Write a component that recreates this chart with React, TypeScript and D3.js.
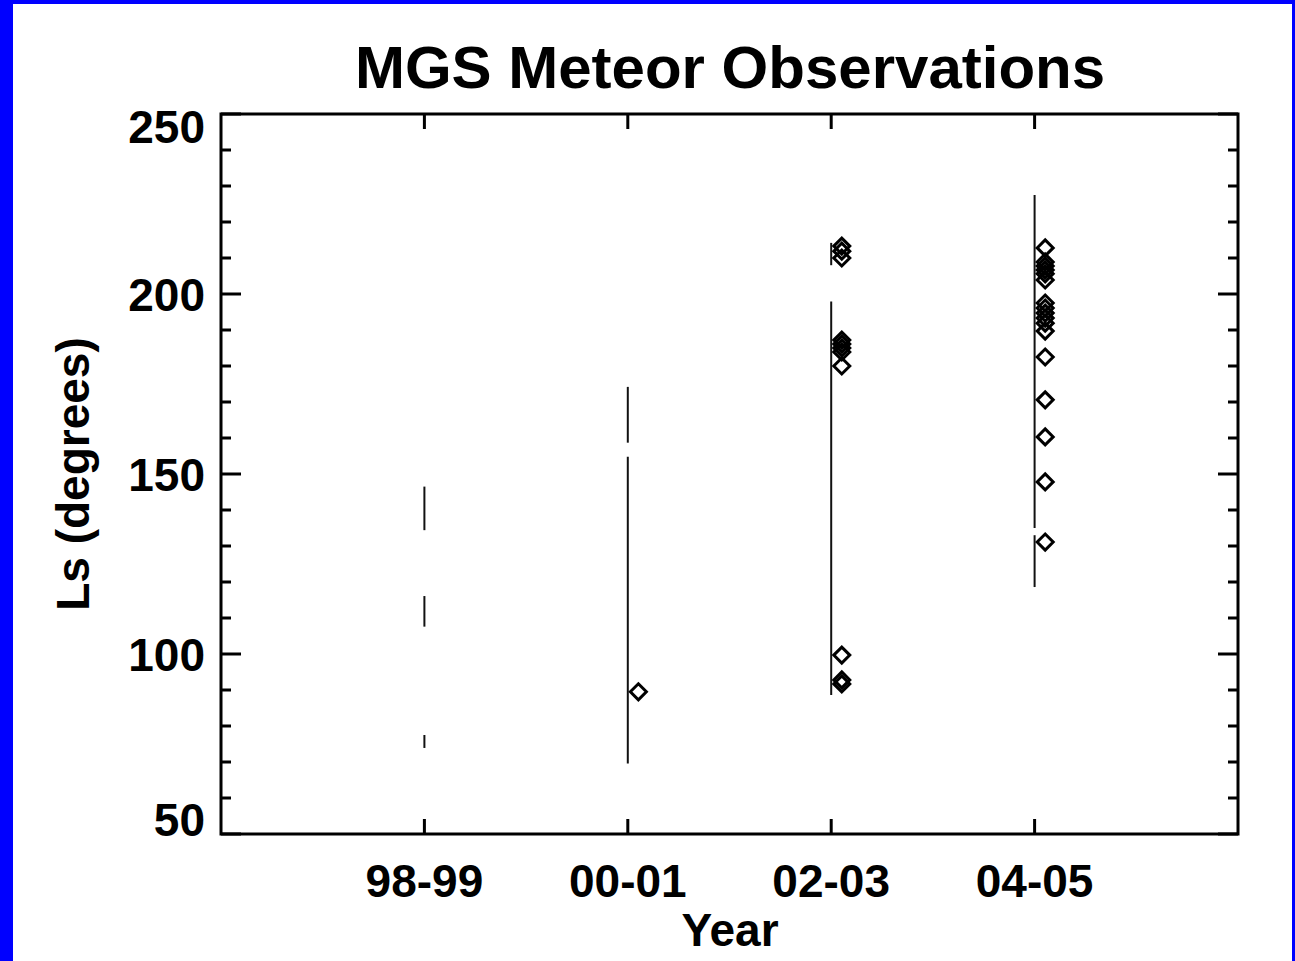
import React from 'react';
import * as d3 from 'd3';

// seasons on the x axis
const seasons = ['98-99', '00-01', '02-03', '04-05'];

// observation coverage (Ls ranges, degrees) for each season
const coverage9899 = [[134.4, 146.5], [107.6, 116.1], [73.9, 77.5]];
const coverage0001 = [[158.7, 174.2], [69.6, 154.8]];
const coverage0203 = [[208.0, 214.2], [88.6, 197.9]];
const coverage0405 = [[135.0, 227.5], [118.6, 133.0]];

// meteor detections (Ls, degrees)
const meteors9899: number[] = [];
const meteors0001 = [89.5];
const meteors0203 = [213.3, 211.9, 210.0, 187.2, 186.1, 185.0, 183.9, 180.0, 99.7, 92.8, 91.7];
const meteors0405 = [212.8, 208.9, 207.8, 206.7, 205.6, 203.9, 197.5, 196.1, 194.7, 193.3, 191.9, 189.7, 182.5, 170.6, 160.3, 147.8, 131.1];

const yTicks = [50, 100, 150, 200, 250];

const coverage = [coverage9899, coverage0001, coverage0203, coverage0405];
const meteors = [meteors9899, meteors0001, meteors0203, meteors0405];

const FONT = '"Liberation Sans", Arial, Helvetica, sans-serif';

export default function App() {
  const W = 1295;
  const H = 961;
  const left = 221, right = 1238, top = 114, bottom = 834;

  const x = d3.scaleLinear().domain([0, 5]).range([left, right]);
  const y = d3.scaleLinear().domain([50, 250]).range([bottom, top]);

  const minor = d3.range(50, 251, 10);
  const diamondOffset = 0.052;
  const dr = 8;

  const diamond = (cx: number, cy: number) =>
    `M${cx},${cy - dr}L${cx + dr},${cy}L${cx},${cy + dr}L${cx - dr},${cy}Z`;

  return (
    <svg width={W} height={H} style={{ position: 'absolute', left: 0, top: 0, background: '#fff' }}>
      {/* blue frame */}
      <rect x={0} y={0} width={W} height={H} fill="#0000ff" />
      <rect x={13} y={4} width={W - 13 - 3} height={H - 4} fill="#ffffff" />

      {/* title */}
      <text x={730} y={88} textAnchor="middle" fontFamily={FONT} fontWeight="bold" fontSize={60} fill="#000">
        MGS Meteor Observations
      </text>

      {/* coverage lines */}
      {coverage.map((segs, i) =>
        segs.map((s, j) => (
          <line key={`c${i}-${j}`} x1={x(i + 1)} x2={x(i + 1)} y1={y(s[0])} y2={y(s[1])} stroke="#111" strokeWidth={2} />
        ))
      )}

      {/* meteors */}
      {meteors.map((vals, i) =>
        vals.map((v, j) => (
          <path key={`m${i}-${j}`} d={diamond(x(i + 1 + diamondOffset), y(v))} fill="none" stroke="#000" strokeWidth={3} strokeLinejoin="miter" />
        ))
      )}

      {/* axes box */}
      <rect x={left} y={top} width={right - left} height={bottom - top} fill="none" stroke="#000" strokeWidth={3} />

      {/* y ticks left & right */}
      {minor.map(v => {
        const len = v % 50 === 0 ? 20 : 10;
        return (
          <g key={`yt${v}`}>
            <line x1={left} x2={left + len} y1={y(v)} y2={y(v)} stroke="#000" strokeWidth={3} />
            <line x1={right} x2={right - len} y1={y(v)} y2={y(v)} stroke="#000" strokeWidth={3} />
          </g>
        );
      })}

      {/* x ticks bottom & top */}
      {seasons.map((s, i) => (
        <g key={`xt${s}`}>
          <line x1={x(i + 1)} x2={x(i + 1)} y1={bottom} y2={bottom - 15} stroke="#000" strokeWidth={3} />
          <line x1={x(i + 1)} x2={x(i + 1)} y1={top} y2={top + 15} stroke="#000" strokeWidth={3} />
          <text x={x(i + 1)} y={897} textAnchor="middle" fontFamily={FONT} fontWeight="bold" fontSize={46} fill="#000">
            {s}
          </text>
        </g>
      ))}

      {/* y tick labels */}
      {yTicks.map(v => {
        const cy = Math.min(Math.max(y(v), 126), 819);
        return (
          <text key={`yl${v}`} x={205} y={cy + 16.5} textAnchor="end" fontFamily={FONT} fontWeight="bold" fontSize={46} fill="#000">
            {v}
          </text>
        );
      })}

      {/* axis titles */}
      <text x={730} y={946} textAnchor="middle" fontFamily={FONT} fontWeight="bold" fontSize={46} fill="#000">
        Year
      </text>
      <text transform="translate(89,474) rotate(-90)" textAnchor="middle" fontFamily={FONT} fontWeight="bold" fontSize={46} fill="#000">
        Ls (degrees)
      </text>
    </svg>
  );
}
